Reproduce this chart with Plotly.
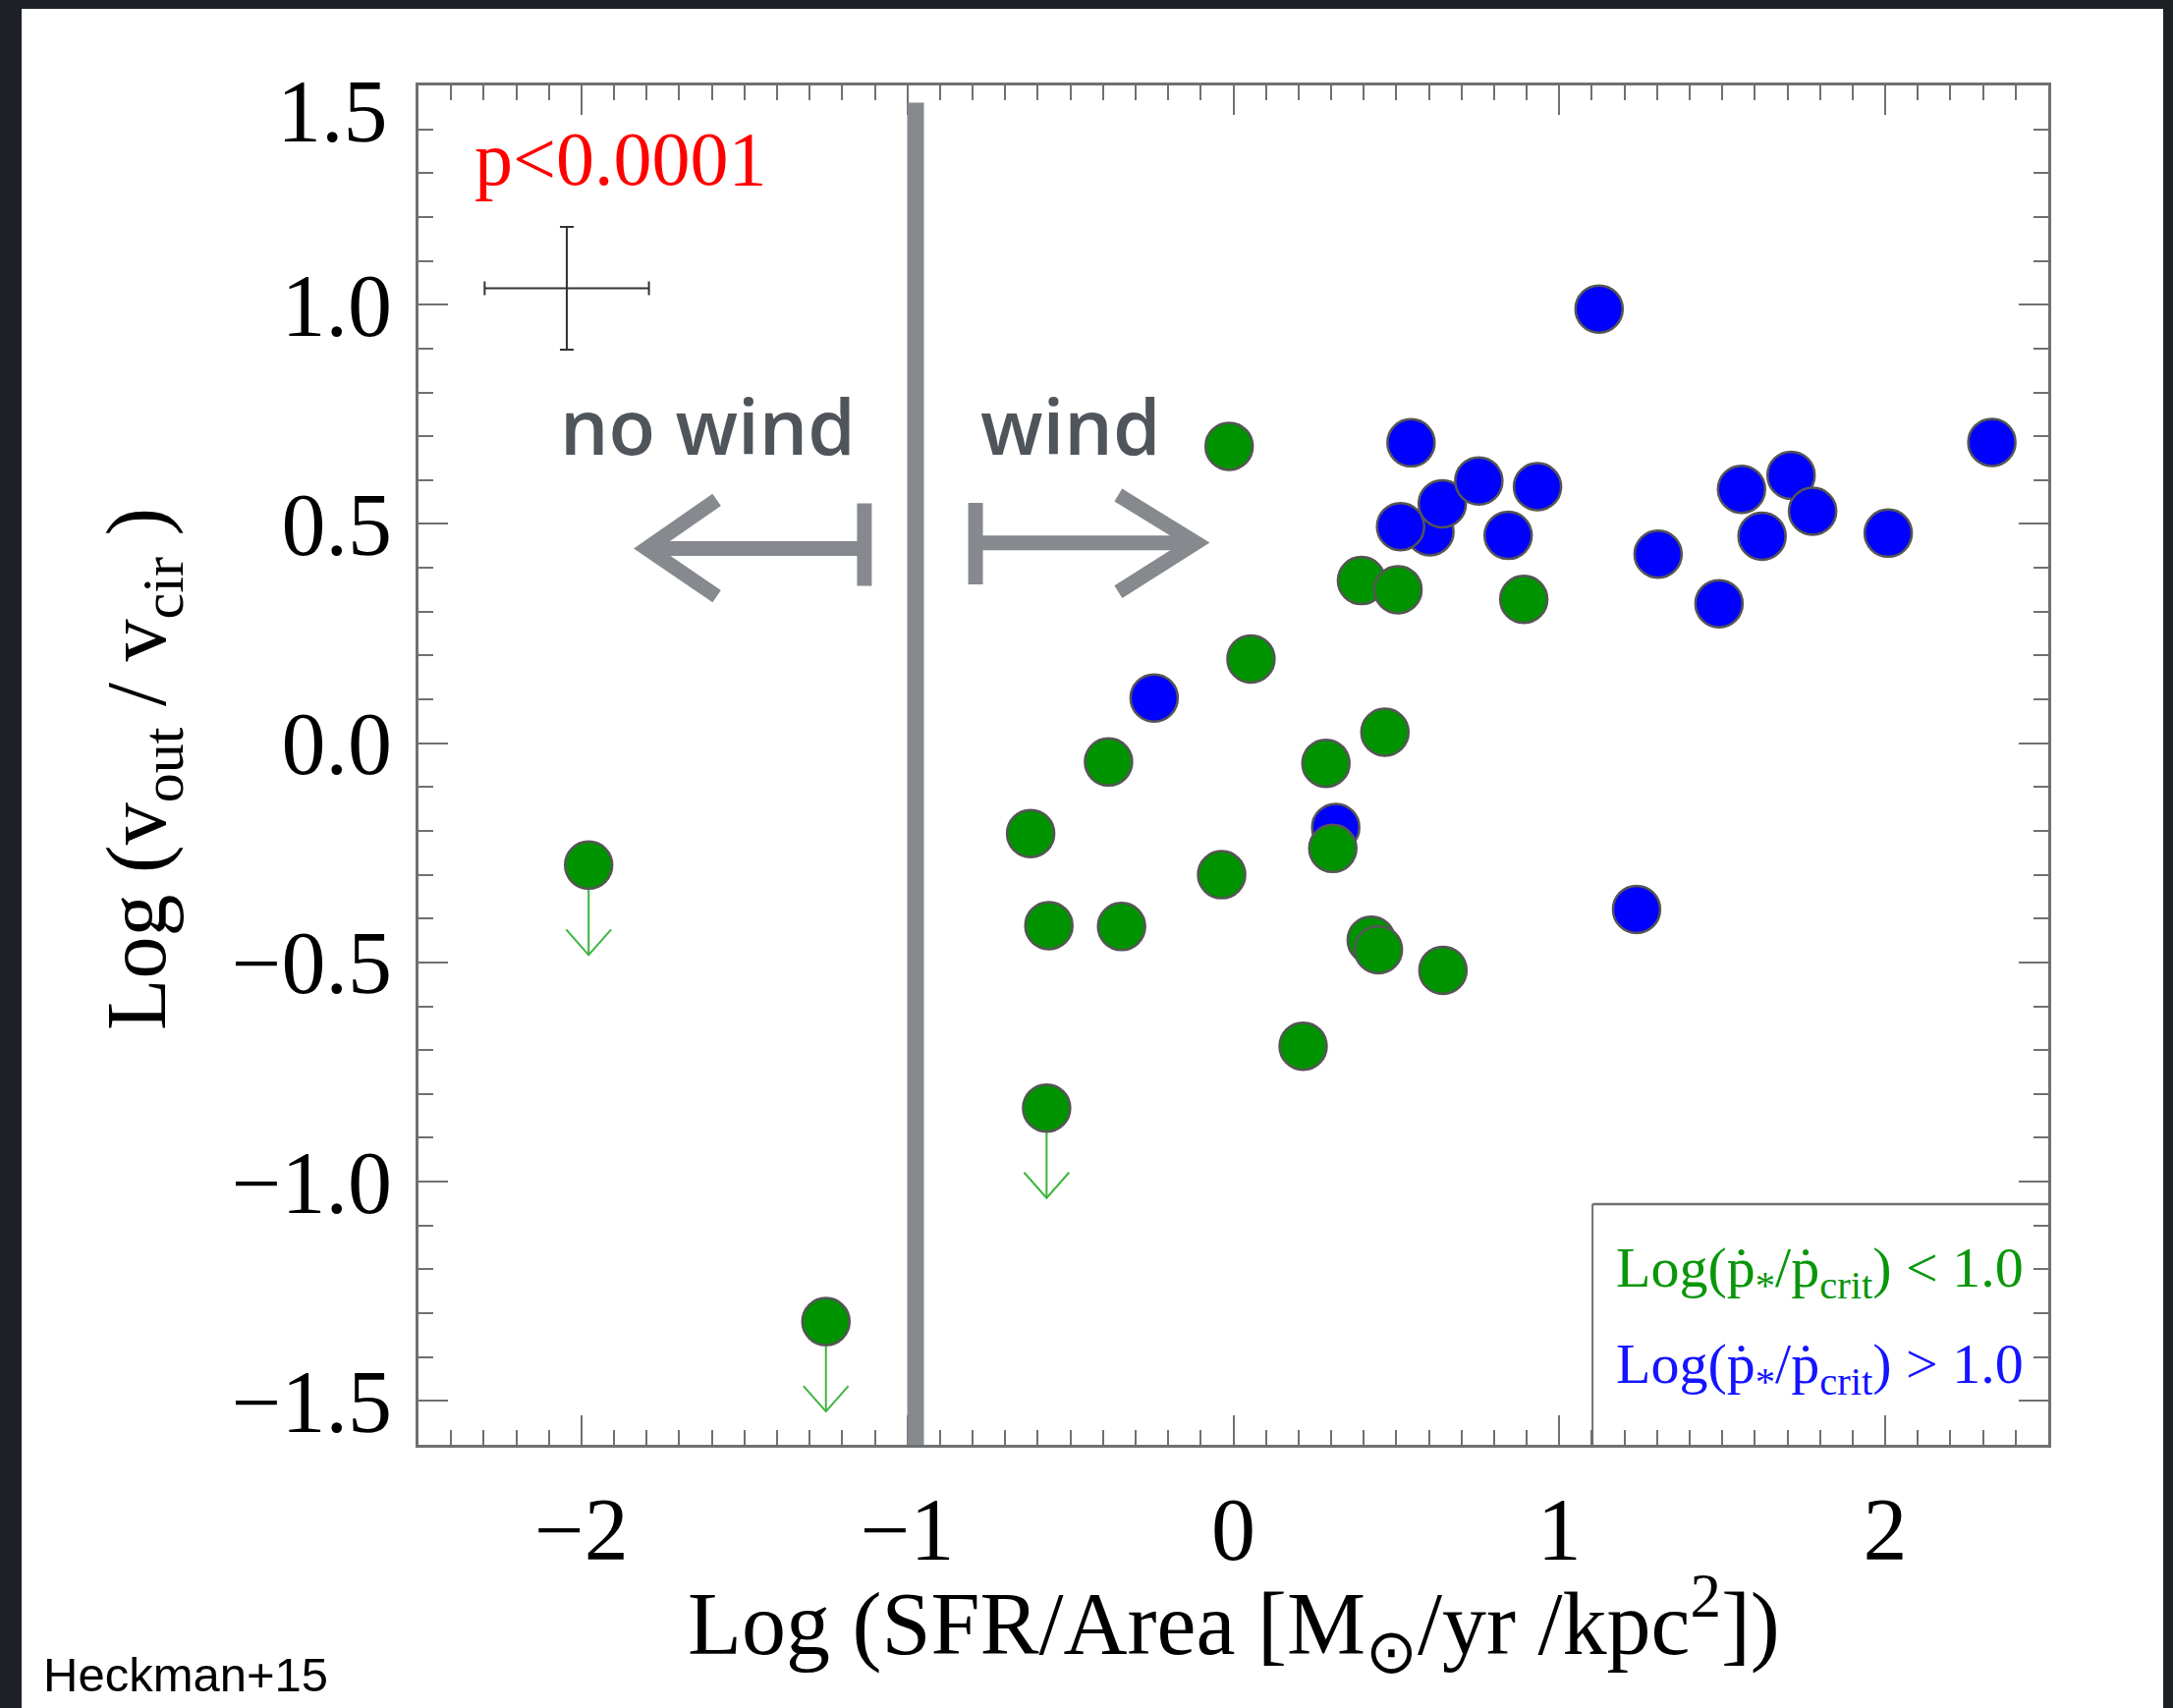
import plotly.graph_objects as go

# ---- data -------------------------------------------------------------
# Log(p*/pcrit) < 1.0 : detections
green_x = [-0.013, -0.622, -0.566, -0.343, -0.383, -0.036, 0.054, 0.214,
           0.284, 0.305, 0.393, 0.505, 0.465, 0.423, 0.445, 0.643, 0.891]
green_y = [0.677, -0.206, -0.416, -0.418, -0.043, -0.300, 0.192, -0.691,
           -0.046, -0.240, 0.371, 0.350, 0.025, -0.449, -0.471, -0.518, 0.328]
# Log(p*/pcrit) < 1.0 : upper limits
limit_x = [-1.978, -1.250, -0.573]
limit_y = [-0.278, -1.319, -0.832]
# Log(p*/pcrit) > 1.0
blue_x = [-0.243, 0.314, 1.237, 0.603, 0.513, 0.641, 0.545, 0.753, 0.843,
          0.933, 1.122, 1.303, 1.490, 1.559, 1.622, 1.711, 1.777, 2.009, 2.327]
blue_y = [0.103, -0.192, -0.379, 0.482, 0.494, 0.546, 0.685, 0.598, 0.474,
          0.585, 0.990, 0.431, 0.318, 0.579, 0.472, 0.611, 0.529, 0.479, 0.686]
# typical error bar
err_x, err_y = [-2.045], [1.0375]
err_dx, err_dy = 0.252, 0.140

x_ticks = [-2, -1, 0, 1, 2]
x_ticktext = ["\u22122", "\u22121", "0", "1", "2"]
y_ticks = [-1.5, -1.0, -0.5, 0.0, 0.5, 1.0, 1.5]
# the top label sits a little below its tick, so it is drawn separately
y_ticktext = ["\u22121.5", "\u22121.0", "\u22120.5", "0.0", "0.5", "1.0", ""]
y_top_label = "1.5"

wind_threshold = -0.975

# ---- figure geometry --------------------------------------------------
W, H = 2212, 1739
L, R, T, B = 426, 127, 87, 268
PW, PH = W - L - R, H - T - B


def px_x(px):
    return (px - L) / PW


def px_y(py):
    return (H - B - py) / PH


SERIF = "Liberation Serif"
GREEN = "#009300"
BLUE = "#0000ff"
GREY = "#86898d"
FRAME = "#707070"
TICK_SIZE = 90

fig = go.Figure()

marker_line = dict(color="#555555", width=2.5)
fig.add_trace(go.Scatter(x=blue_x, y=blue_y, mode="markers",
                         marker=dict(size=48, color=BLUE, line=marker_line),
                         showlegend=False, hoverinfo="x+y"))
fig.add_trace(go.Scatter(x=green_x + limit_x, y=green_y + limit_y, mode="markers",
                         marker=dict(size=48, color=GREEN, line=marker_line),
                         showlegend=False, hoverinfo="x+y"))

# representative error bars
fig.add_trace(go.Scatter(
    x=err_x, y=err_y, mode="markers", marker=dict(size=1, color="rgba(0,0,0,0)"),
    error_x=dict(type="constant", value=err_dx, color="#333333", thickness=2, width=7),
    error_y=dict(type="constant", value=err_dy, color="#333333", thickness=2, width=7),
    showlegend=False, hoverinfo="skip"))

shapes = []

# white page inside a dark border
shapes.append(dict(type="rect", xref="paper", yref="paper", layer="below",
                   x0=px_x(22), x1=px_x(2202), y0=px_y(H + 5), y1=px_y(9),
                   fillcolor="white", line=dict(width=0)))

# upper-limit arrows
arrow_len, wing_dx, wing_dy = 0.205, 0.069, 0.058
for x, y in zip(limit_x, limit_y):
    tip = y - arrow_len
    shapes.append(dict(type="line", xref="x", yref="y", layer="below",
                       x0=x, x1=x, y0=y, y1=tip,
                       line=dict(color="#3cb43c", width=2)))
    shapes.append(dict(type="path", xref="x", yref="y", layer="below",
                       path=f"M {x - wing_dx},{tip + wing_dy} L {x},{tip} L {x + wing_dx},{tip + wing_dy}",
                       line=dict(color="#3cb43c", width=2)))

# wind threshold line
shapes.append(dict(type="line", xref="x", yref="y", layer="above",
                   x0=wind_threshold, x1=wind_threshold, y0=1.461, y1=-1.6,
                   line=dict(color=GREY, width=17)))

# "no wind" / "wind" arrows
arrow_style = dict(color=GREY, width=15)
shapes += [
    dict(type="line", xref="x", yref="y", x0=-1.132, x1=-1.78, y0=0.444, y1=0.444, line=arrow_style),
    dict(type="line", xref="x", yref="y", x0=-1.132, x1=-1.132, y0=0.547, y1=0.359, line=arrow_style),
    dict(type="path", xref="x", yref="y",
         path="M -1.585,0.555 L -1.80,0.444 L -1.585,0.335", line=arrow_style),
    dict(type="line", xref="x", yref="y", x0=-0.791, x1=-0.125, y0=0.457, y1=0.457, line=arrow_style),
    dict(type="line", xref="x", yref="y", x0=-0.791, x1=-0.791, y0=0.548, y1=0.362, line=arrow_style),
    dict(type="path", xref="x", yref="y",
         path="M -0.353,0.566 L -0.115,0.457 L -0.353,0.345", line=arrow_style),
]

# legend box
shapes += [
    dict(type="line", xref="x", yref="y", x0=1.102, x1=1.102, y0=-1.051, y1=-1.6,
         line=dict(color=FRAME, width=2)),
    dict(type="line", xref="x", yref="y", x0=1.102, x1=2.5, y0=-1.051, y1=-1.051,
         line=dict(color=FRAME, width=2.5)),
]

wind_font = dict(family="Open Sans", size=78, color="#50555b", weight=600)
annotations = [
    dict(text=y_top_label, x=px_x(L - 29), y=1.44, xref="paper", yref="y", xanchor="right",
         yanchor="middle", showarrow=False,
         font=dict(family=SERIF, size=TICK_SIZE, color="black")),
    dict(text="p<0.0001", x=-2.335, y=1.333, xref="x", yref="y", xanchor="left",
         yanchor="middle", showarrow=False, font=dict(family=SERIF, size=78, color="#ff0000")),
    dict(text="no wind", x=-1.612, y=0.726, xref="x", yref="y", xanchor="center",
         yanchor="middle", showarrow=False, font=wind_font),
    dict(text="wind", x=-0.501, y=0.726, xref="x", yref="y", xanchor="center",
         yanchor="middle", showarrow=False, font=wind_font),
    dict(text="Log(\u1e57<sub>*</sub>/\u1e57<sub>crit</sub>) < 1.0", x=2.43, y=-1.204,
         xref="x", yref="y", xanchor="right", yanchor="middle", showarrow=False,
         font=dict(family=SERIF, size=58, color="#0a960a")),
    dict(text="Log(\u1e57<sub>*</sub>/\u1e57<sub>crit</sub>) > 1.0", x=2.43, y=-1.424,
         xref="x", yref="y", xanchor="right", yanchor="middle", showarrow=False,
         font=dict(family=SERIF, size=58, color="#1414ff")),
    dict(text="Log (SFR/Area [M<sub>\u2299</sub>/yr /kpc<sup>2</sup>])", x=0.5, y=px_y(1653),
         xref="paper", yref="paper", xanchor="center", yanchor="middle", showarrow=False,
         font=dict(family=SERIF, size=90, color="black")),
    dict(text="Log (v<sub>out</sub> / v<sub>cir</sub> )", x=px_x(145), y=px_y(783),
         xref="paper", yref="paper", xanchor="center", yanchor="middle", textangle=-90,
         showarrow=False, font=dict(family=SERIF, size=86, color="black")),
    dict(text="Heckman+15", x=px_x(42), y=px_y(1734), xref="paper", yref="paper",
         xanchor="left", yanchor="bottom", showarrow=False,
         font=dict(family="Liberation Sans", size=49, color="black")),
]

axis_common = dict(
    showline=True, linecolor=FRAME, linewidth=3, mirror="allticks",
    ticks="inside", ticklen=30, tickwidth=2, tickcolor=FRAME,
    showgrid=False, zeroline=False,
    tickfont=dict(family=SERIF, size=TICK_SIZE, color="black"),
    minor=dict(ticks="inside", ticklen=15, tickwidth=2, tickcolor=FRAME, dtick=0.1,
               showgrid=False),
)

fig.update_layout(
    width=W, height=H,
    margin=dict(l=L, r=R, t=T, b=B),
    paper_bgcolor="#1d2125",
    plot_bgcolor="white",
    shapes=shapes,
    annotations=annotations,
    xaxis=dict(range=[-2.5, 2.5], tickvals=x_ticks, ticktext=x_ticktext,
               ticklabelstandoff=6, **axis_common),
    yaxis=dict(range=[-1.6, 1.5], tickvals=y_ticks, ticktext=y_ticktext,
               ticklabelstandoff=6, **axis_common),
)

fig.write_html("out.html")
